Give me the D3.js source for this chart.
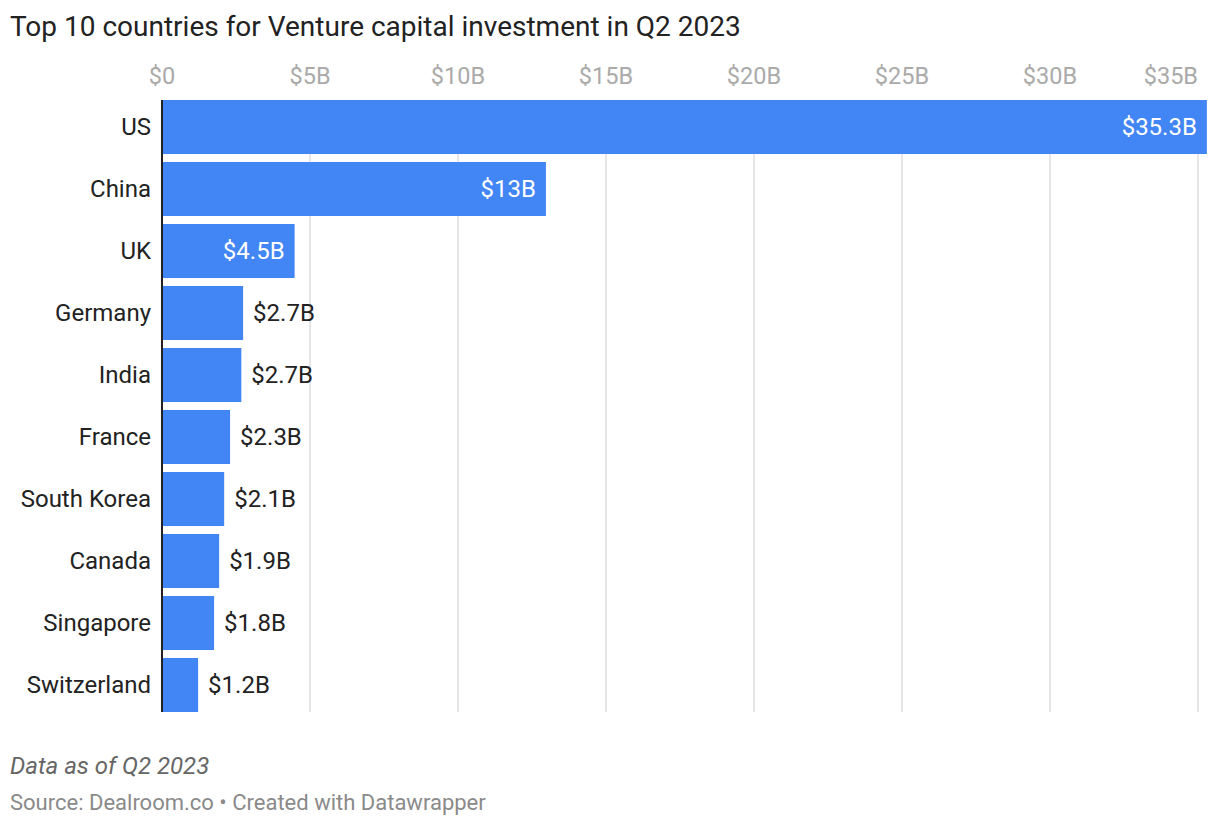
<!DOCTYPE html>
<html><head><meta charset="utf-8">
<script src="https://cdn.jsdelivr.net/npm/d3@7"></script>
<style>body{margin:0;background:#fff;font-family:Roboto,"Noto Sans",sans-serif;}</style>
</head><body><svg id="c" width="1220" height="826"></svg>
<script>
const countries = ["US","China","UK","Germany","India","France","South Korea","Canada","Singapore","Switzerland"];
const values = [35.3,12.97,4.48,2.74,2.68,2.3,2.1,1.93,1.76,1.22];
const ticks = [0,5,10,15,20,25,30,35];
const insideCount = 3;

const svg = d3.select("#c");
const x = d3.scaleLinear().domain([0,35]).range([162,1198]);
const y = d3.scaleBand().domain(countries).range([100,712]).paddingInner(8/62).paddingOuter(0);
const fmt = v => "$" + (+v.toFixed(1)).toString() + "B";
const tickFmt = v => v === 0 ? "$0" : "$" + v + "B";

svg.append("text").attr("x",10).attr("y",36).attr("font-size",28).attr("fill","#222").text("Top 10 countries for Venture capital investment in Q2 2023");

const g = svg.append("g");
g.selectAll("line.grid").data(ticks.filter(t=>t>0)).join("line")
 .attr("x1",d=>x(d)).attr("x2",d=>x(d)).attr("y1",100).attr("y2",712)
 .attr("stroke","#e6e6e6").attr("stroke-width",2);
g.selectAll("text.tick").data(ticks).join("text")
 .attr("x",d=>x(d))
 .attr("text-anchor",(d,i)=> i===ticks.length-1 ? "end" : "middle")
 .attr("y",84).attr("font-size",23.5).attr("fill","#aaaaaa").text(tickFmt);

g.selectAll("rect").data(values).join("rect")
 .attr("x",x(0)).attr("y",(d,i)=>y(countries[i])).attr("width",d=>x(d)-x(0)).attr("height",y.bandwidth())
 .attr("fill","#4285f4");

g.selectAll("text.cat").data(countries).join("text")
 .attr("x",151).attr("y",d=>y(d)+y.bandwidth()/2+7.5).attr("text-anchor","end")
 .attr("font-size",24).attr("fill","#222").text(d=>d);

g.selectAll("text.val").data(values).join("text")
 .attr("x",(d,i)=> i<insideCount ? x(d)-10 : x(d)+10)
 .attr("text-anchor",(d,i)=> i<insideCount ? "end" : "start")
 .attr("y",(d,i)=>y(countries[i])+y.bandwidth()/2+7.5)
 .attr("font-size",24).attr("fill",(d,i)=> i<insideCount ? "#fff" : "#222").text(fmt);

g.append("line").attr("x1",x(0)).attr("x2",x(0)).attr("y1",100).attr("y2",712).attr("stroke","#222").attr("stroke-width",2);

svg.append("text").attr("x",10).attr("y",774).attr("font-size",24).attr("font-style","italic").attr("fill","#666").text("Data as of Q2 2023");
svg.append("text").attr("x",10).attr("y",810).attr("font-size",22).attr("fill","#8a8a8a").text("Source: Dealroom.co • Created with Datawrapper");
</script></body></html>
